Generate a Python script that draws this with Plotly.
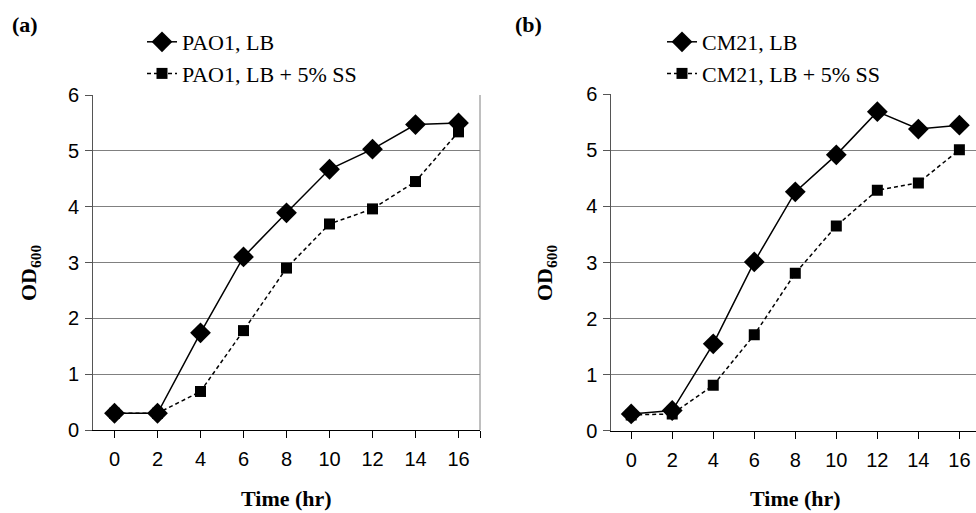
import plotly.graph_objects as go

time_hr = [0, 2, 4, 6, 8, 10, 12, 14, 16]
pao1_lb = [0.30, 0.30, 1.74, 3.10, 3.89, 4.67, 5.03, 5.47, 5.50]
pao1_ss = [0.30, 0.30, 0.69, 1.78, 2.90, 3.69, 3.96, 4.45, 5.34]
cm21_lb = [0.30, 0.36, 1.55, 3.01, 4.26, 4.92, 5.69, 5.38, 5.45]
cm21_ss = [0.28, 0.30, 0.81, 1.71, 2.81, 3.65, 4.29, 4.42, 5.01]
x_ticks = [0, 2, 4, 6, 8, 10, 12, 14, 16, 17]
x_tick_labels = ["0", "2", "4", "6", "8", "10", "12", "14", "16", ""]
y_ticks = [0, 1, 2, 3, 4, 5, 6]

SERIF = "Liberation Serif, Times New Roman, serif"
SANS = "Liberation Sans, Arial, sans-serif"
W, H = 976, 513

fig = go.Figure()

def add_pair(lb, ss, name_lb, name_ss, xa, ya, leg):
    fig.add_trace(go.Scatter(x=time_hr, y=ss, name=name_ss, mode="lines+markers",
                             line=dict(color="black", width=1.5, dash="4px,3px"),
                             marker=dict(symbol="square", size=11, color="black"),
                             xaxis=xa, yaxis=ya, legend=leg, legendrank=2))
    fig.add_trace(go.Scatter(x=time_hr, y=lb, name=name_lb, mode="lines+markers",
                             line=dict(color="black", width=1.5),
                             marker=dict(symbol="diamond", size=16, color="black"),
                             xaxis=xa, yaxis=ya, legend=leg, legendrank=1))

add_pair(pao1_lb, pao1_ss, "PAO1, LB", "PAO1, LB + 5% SS", "x", "y", "legend")
add_pair(cm21_lb, cm21_ss, "CM21, LB", "CM21, LB + 5% SS", "x2", "y2", "legend2")

xcommon = dict(tickmode="array", tickvals=x_ticks, ticktext=x_tick_labels,
               ticks="outside", ticklen=7,
               tickcolor="black", showline=True, linecolor="black", linewidth=1,
               showgrid=False, zeroline=False, automargin=False, ticklabelstandoff=4,
               tickfont=dict(family=SANS, size=20, color="black"))
ycommon = dict(tickmode="array", tickvals=y_ticks, range=[0, 6], ticks="outside", ticklen=7,
               tickcolor="#555555", showline=True, linecolor="#555555", linewidth=1,
               showgrid=True, gridcolor="#808080", gridwidth=1, zeroline=False,
               automargin=False, ticklabelstandoff=2,
               tickfont=dict(family=SANS, size=20, color="black"))

legfont = dict(family=SERIF, size=22, color="black")
tfont = dict(family=SERIF, size=22, color="black")

def ann(text, x, y, angle=0, xanchor="center"):
    return dict(text=text, x=x / W, y=1 - y / H, xref="paper", yref="paper",
                xanchor=xanchor, yanchor="middle", showarrow=False,
                textangle=angle, font=tfont)

fig.update_layout(
    width=W, height=H,
    margin=dict(l=0, r=0, t=0, b=0, autoexpand=False),
    paper_bgcolor="white", plot_bgcolor="white",
    xaxis=dict(domain=[93 / W, 480 / W], range=[-1, 17], anchor="y", **xcommon),
    yaxis=dict(domain=[83 / H, 418 / H], anchor="x", **ycommon),
    xaxis2=dict(domain=[611.3 / W, 1.0], range=[-0.97, 16.81], anchor="y2", **xcommon),
    yaxis2=dict(domain=[82.3 / H, 418.7 / H], anchor="x2", **ycommon),
    legend=dict(x=142 / W, y=1 - 21 / H, xref="container", yref="container",
                xanchor="left", yanchor="top",
                bgcolor="rgba(0,0,0,0)", font=legfont, tracegroupgap=0, itemwidth=30),
    legend2=dict(x=662 / W, y=1 - 21 / H, xref="container", yref="container",
                 xanchor="left", yanchor="top",
                 bgcolor="rgba(0,0,0,0)", font=legfont, tracegroupgap=0, itemwidth=30),
    showlegend=True,
    annotations=[
        ann("<b>(a)</b>", 10, 24, xanchor="left"),
        ann("<b>(b)</b>", 513, 24, xanchor="left"),
        ann("<b>Time (hr)</b>", 286.5, 498),
        ann("<b>Time (hr)</b>", 795, 498),
        ann("<b>OD<sub>600</sub></b>", 30, 273, angle=-90),
        ann("<b>OD<sub>600</sub></b>", 546, 273, angle=-90),
    ],
    shapes=[
        dict(type="line", xref="x domain", yref="y domain", x0=1, x1=1, y0=0, y1=1,
             line=dict(color="#808080", width=1)),
    ],
)

fig.write_html("out.html", config={"displayModeBar": False},
               post_script="document.body.style.margin='0';document.body.style.overflow='hidden';")
